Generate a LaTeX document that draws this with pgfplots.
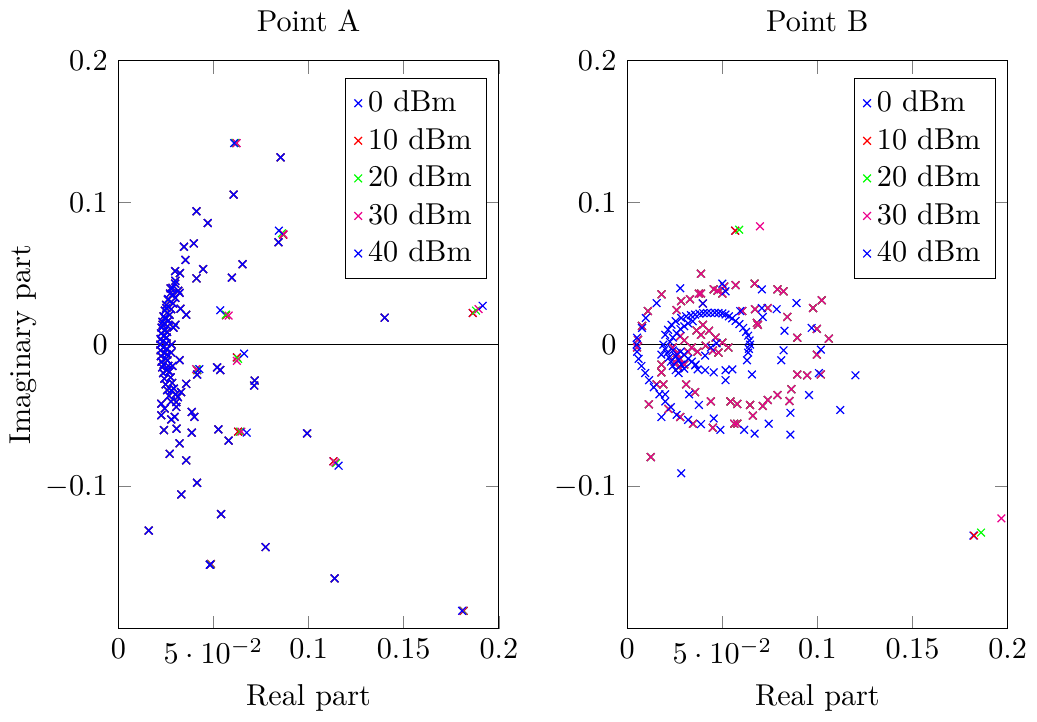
\documentclass[border=0pt]{standalone}
\usepackage{pgfplots}
\usepackage{pgfplotstable}
\pgfplotsset{compat=1.18}

% ---------- Point A: points shared by all power levels ----------
\pgfplotstableread{
x y
0.0853 0.1320
0.0606 0.1057
0.0411 0.0940
0.0470 0.0857
0.0842 0.0722
0.0345 0.0690
0.0397 0.0713
0.0353 0.0597
0.0653 0.0567
0.0446 0.0532
0.0411 0.0467
0.0597 0.0472
0.0299 0.0518
0.0324 0.0504
0.0299 0.0430
0.0275 0.0397
0.0322 0.0365
0.0287 0.0355
0.0261 0.0316
0.0252 0.0258
0.0327 0.0253
0.0357 0.0211
0.0244 0.0188
0.0300 0.0140
0.1400 0.0190
0.0278 -0.0056
0.0322 -0.0109
0.0414 -0.0211
0.0519 -0.0160
0.0536 -0.0179
0.0717 -0.0253
0.0714 -0.0288
0.0357 -0.0276
0.0278 -0.0323
0.0313 -0.0369
0.0330 -0.0334
0.0226 -0.0416
0.0305 -0.0404
0.0305 -0.0439
0.0244 -0.0450
0.0226 -0.0497
0.0386 -0.0474
0.0400 -0.0509
0.0296 -0.0509
0.0278 -0.0527
0.0240 -0.0602
0.0306 -0.0592
0.0386 -0.0620
0.0526 -0.0597
0.0580 -0.0676
0.0992 -0.0625
0.0322 -0.0695
0.0270 -0.0769
0.0357 -0.0815
0.0414 -0.0973
0.0331 -0.1055
0.0540 -0.1194
0.0160 -0.1310
0.0774 -0.1426
0.0482 -0.1550
0.1137 -0.1647
0.0300 0.0450
0.0285 0.0400
0.0272 0.0360
0.0262 0.0320
0.0252 0.0280
0.0245 0.0240
0.0238 0.0200
0.0232 0.0160
0.0228 0.0120
0.0225 0.0080
0.0222 0.0040
0.0221 0.0000
0.0222 -0.0040
0.0224 -0.0080
0.0227 -0.0120
0.0231 -0.0160
0.0236 -0.0200
0.0242 -0.0240
0.0249 -0.0280
0.0257 -0.0320
0.0266 -0.0360
0.0277 -0.0400
0.0315 0.0380
0.0300 0.0330
0.0288 0.0290
0.0278 0.0250
0.0270 0.0210
0.0264 0.0170
0.0259 0.0130
0.0256 0.0090
0.0254 0.0050
0.0253 0.0010
0.0254 -0.0030
0.0256 -0.0070
0.0259 -0.0110
0.0263 -0.0150
0.0268 -0.0190
0.0275 -0.0230
0.0283 -0.0270
0.0292 -0.0310
0.0302 -0.0350
0.0232 0.0020
0.0236 -0.0020
0.0240 0.0060
0.0243 -0.0060
0.0246 0.0100
0.0250 -0.0100
0.0280 0.0000
0.0285 -0.0150
0.0290 0.0120
0.0233 0.0140
0.0238 -0.0140
0.0248 0.0180
0.0255 -0.0180
}\LC

% ---------- Point A: points where the power levels differ ----------
\pgfplotstableread{
x0 y0 x10 y10 x20 y20 x30 y30 x40 y40
0.0620 0.1420 0.0620 0.1420 0.0615 0.1422 0.0622 0.1420 0.0609 0.1420
0.0867 0.0775 0.0867 0.0775 0.0860 0.0785 0.0867 0.0780 0.0844 0.0803
0.0566 0.0207 0.0566 0.0207 0.0566 0.0212 0.0580 0.0205 0.0536 0.0242
0.0623 -0.0090 0.0623 -0.0090 0.0630 -0.0100 0.0623 -0.0114 0.0661 -0.0063
0.0415 -0.0180 0.0415 -0.0180 0.0415 -0.0175 0.0409 -0.0172 0.0426 -0.0172
0.0630 -0.0613 0.0630 -0.0613 0.0640 -0.0613 0.0647 -0.0613 0.0675 -0.0620
0.1131 -0.0822 0.1131 -0.0822 0.1145 -0.0835 0.1140 -0.0830 0.1158 -0.0853
0.1863 0.0223 0.1863 0.0223 0.1880 0.0240 0.1894 0.0251 0.1915 0.0274
0.1815 -0.1875 0.1815 -0.1875 0.1812 -0.1875 0.1810 -0.1875 0.1807 -0.1875
0.0487 -0.1545 0.0487 -0.1545 0.0485 -0.1548 0.0484 -0.1550 0.0482 -0.1550
}\LD

% ---------- Point B: points shared by 0, 10, 20 and 30 dBm ----------
\pgfplotstableread{
x y
0.0388 0.0500
0.0181 0.0355
0.0109 0.0237
0.0078 0.0132
0.0057 0.0035
0.0052 -0.0020
0.0284 0.0307
0.0330 0.0320
0.0388 0.0360
0.0455 0.0390
0.0510 0.0410
0.0260 0.0244
0.0398 0.0290
0.0570 0.0420
0.0670 0.0430
0.0790 0.0390
0.0822 0.0376
0.1023 0.0313
0.0977 0.0258
0.0842 0.0195
0.0894 0.0049
0.0997 0.0111
0.1060 0.0042
0.0687 0.0140
0.0605 0.0237
0.0672 0.0250
0.0739 0.0258
0.0997 -0.0070
0.0894 -0.0210
0.0946 -0.0216
0.1018 -0.0210
0.0863 -0.0314
0.0790 -0.0355
0.0739 -0.0390
0.0713 -0.0432
0.0853 -0.0397
0.0646 -0.0425
0.0579 -0.0418
0.0661 -0.0500
0.0579 -0.0557
0.0563 -0.0557
0.0543 -0.0400
0.0440 -0.0400
0.0450 -0.0585
0.0346 -0.0557
0.0279 -0.0510
0.0217 -0.0453
0.0114 -0.0420
0.0357 -0.0335
0.0310 -0.0280
0.0190 -0.0280
0.0155 -0.0280
0.0180 -0.0195
0.0180 -0.0140
0.0124 -0.0792
0.0398 0.0140
0.0430 0.0098
0.0465 0.0050
0.0500 0.0014
0.0532 -0.0020
0.0480 -0.0056
0.0450 -0.0042
0.0413 -0.0007
0.0388 0.0070
0.0682 0.0153
0.0500 0.0360
0.0377 0.0360
0.0475 0.0380
0.0240 -0.0020
0.0260 -0.0060
0.0280 -0.0100
0.0300 -0.0140
0.0250 -0.0120
0.0270 -0.0160
0.0320 -0.0050
0.0340 -0.0020
0.0300 0.0030
0.0280 0.0060
0.0365 0.0100
0.0370 -0.0050
}\RC

% ---------- Point B: outliers where 0, 10, 20, 30 dBm differ ----------
\pgfplotstableread{
x0 y0 x10 y10 x20 y20 x30 y30
0.0568 0.0803 0.0568 0.0803 0.0589 0.0810 0.0698 0.0834
0.1820 -0.1345 0.1824 -0.1345 0.1860 -0.1324 0.1967 -0.1224
}\RD

% ---------- Point B: 40 dBm ----------
\pgfplotstableread{
x y
0.0155 0.0293
0.0098 0.0188
0.0078 0.0118
0.0052 0.0049
0.0279 0.0397
0.0500 0.0430
0.0517 0.0376
0.0050 0.0000
0.0052 -0.0050
0.0060 -0.0100
0.0075 -0.0150
0.0095 -0.0200
0.0115 -0.0250
0.0140 -0.0300
0.0170 -0.0350
0.0200 -0.0400
0.0230 -0.0440
0.0260 -0.0495
0.0180 -0.0510
0.0320 -0.0530
0.0388 -0.0560
0.0455 -0.0520
0.0490 -0.0600
0.0615 -0.0600
0.0670 -0.0627
0.0744 -0.0557
0.0858 -0.0634
0.0858 -0.0480
0.0956 -0.0355
0.1120 -0.0460
0.1200 -0.0216
0.1008 -0.0200
0.1018 -0.0035
0.0822 -0.0040
0.0810 -0.0110
0.0656 -0.0210
0.0827 0.0098
0.0970 0.0118
0.0890 0.0293
0.0708 0.0390
0.0594 0.0237
0.0708 0.0258
0.0786 0.0250
0.0713 0.0195
0.0284 -0.0906
0.0377 -0.0425
0.0326 -0.0350
0.0200 -0.0350
0.0553 -0.0174
0.0517 -0.0180
0.0517 -0.0250
0.0455 -0.0195
0.0410 -0.0180
0.0370 -0.0174
0.0357 -0.0146
0.0410 -0.0077
0.0398 0.0290
0.0180 -0.0070
0.0190 0.0000
0.0200 0.0070
0.0215 0.0105
0.0233 0.0140
0.0255 0.0165
0.0284 0.0188
0.0310 0.0200
0.0335 0.0208
0.0357 0.0212
0.0380 0.0218
0.0400 0.0222
0.0420 0.0223
0.0440 0.0223
0.0460 0.0225
0.0480 0.0223
0.0500 0.0220
0.0517 0.0212
0.0535 0.0200
0.0552 0.0185
0.0570 0.0167
0.0590 0.0145
0.0610 0.0118
0.0625 0.0090
0.0636 0.0063
0.0643 0.0030
0.0646 0.0000
0.0640 -0.0030
0.0636 -0.0056
0.0630 -0.0110
0.0200 -0.0030
0.0210 -0.0060
0.0220 -0.0090
0.0230 -0.0120
0.0240 -0.0150
0.0255 -0.0180
0.0270 -0.0200
0.0225 0.0020
0.0240 0.0050
0.0260 0.0080
0.0280 0.0110
0.0300 0.0130
0.0320 0.0150
0.0345 0.0165
0.0240 -0.0040
0.0255 -0.0080
0.0270 -0.0110
0.0285 -0.0140
0.0300 -0.0170
0.0320 -0.0100
0.0340 -0.0120
0.0360 -0.0140
0.0280 -0.0050
0.0300 -0.0070
0.0440 -0.0020
0.0470 0.0010
}\RB

\pgfplotsset{
  pt/.style={only marks, mark=x, mark size=1.8pt},
  pane/.style={
    scale only axis, width=126pt, height=188pt,
    xmin=0, xmax=0.2, ymin=-0.2, ymax=0.2,
    xtick={0,0.05,0.1,0.15,0.2},
    ytick={-0.1,0,0.1,0.2},
    xlabel={Real part},
    legend pos=north east,
    legend cell align=left,
  },
}

\begin{document}
\begin{tikzpicture}
\begin{axis}[pane, title={Point A}, ylabel={Imaginary part}, ylabel shift=-4pt]
\addplot[black, no markers, forget plot] coordinates {(0,0) (0.2,0)};
\addplot[pt, blue] table {\LC};
\addlegendentry{0 dBm}
\addplot[pt, blue, forget plot] table[x=x0, y=y0] {\LD};
\addplot[pt, red] table {\LC};
\addlegendentry{10 dBm}
\addplot[pt, red, forget plot] table[x=x10, y=y10] {\LD};
\addplot[pt, green] table {\LC};
\addlegendentry{20 dBm}
\addplot[pt, green, forget plot] table[x=x20, y=y20] {\LD};
\addplot[pt, magenta] table {\LC};
\addlegendentry{30 dBm}
\addplot[pt, magenta, forget plot] table[x=x30, y=y30] {\LD};
\addplot[pt, blue] table {\LC};
\addlegendentry{40 dBm}
\addplot[pt, blue, forget plot] table[x=x40, y=y40] {\LD};
\end{axis}

\begin{axis}[pane, at={(168.5pt,0pt)}, title={Point B}]
\addplot[black, no markers, forget plot] coordinates {(0,0) (0.2,0)};
\addplot[pt, blue] table {\RC};
\addlegendentry{0 dBm}
\addplot[pt, blue, forget plot] table[x=x0, y=y0] {\RD};
\addplot[pt, red] table {\RC};
\addlegendentry{10 dBm}
\addplot[pt, red, forget plot] table[x=x10, y=y10] {\RD};
\addplot[pt, green] table {\RC};
\addlegendentry{20 dBm}
\addplot[pt, green, forget plot] table[x=x20, y=y20] {\RD};
\addplot[pt, magenta] table {\RC};
\addlegendentry{30 dBm}
\addplot[pt, magenta, forget plot] table[x=x30, y=y30] {\RD};
\addplot[pt, blue] table {\RB};
\addlegendentry{40 dBm}
\end{axis}
\end{tikzpicture}
\end{document}
